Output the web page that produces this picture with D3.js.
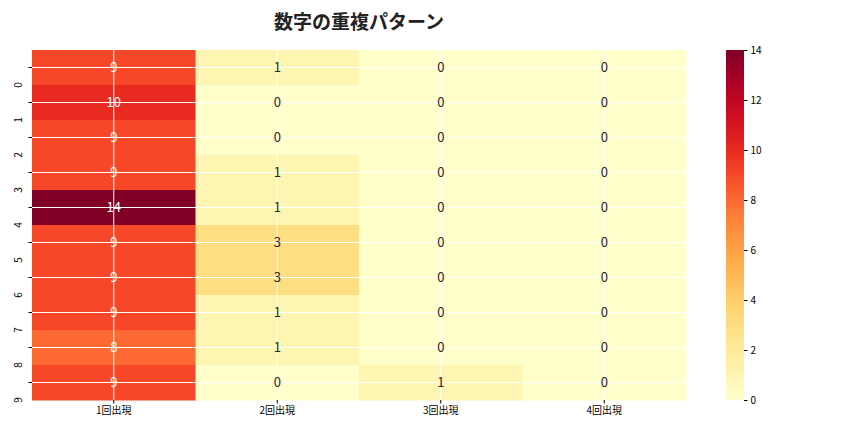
<!DOCTYPE html><html><head><meta charset="utf-8"><script src="https://cdn.jsdelivr.net/npm/d3@7"></script>
<style>body{margin:0;background:#fff}text{font-family:"Noto Sans CJK JP","DejaVu Sans",sans-serif}</style></head><body>
<svg id="c" width="864" height="432"></svg>
<script>
const rows=["0","1","2","3","4","5","6","7","8","9"];
const cols=["1回出現","2回出現","3回出現","4回出現"];
const values=[[9,1,0,0],[10,0,0,0],[9,0,0,0],[9,1,0,0],[14,1,0,0],[9,3,0,0],[9,3,0,0],[9,1,0,0],[8,1,0,0],[9,0,1,0]];
const cbTicks=[0,2,4,6,8,10,12,14];
const svg=d3.select("#c");
const x=d3.scaleBand().domain(cols).range([32,686]);
const y=d3.scaleBand().domain(rows).range([50,400]);
const color=d3.scaleSequential(d3.interpolateYlOrRd).domain([0,14]);
const cells=[];values.forEach((r,i)=>r.forEach((v,j)=>cells.push({r:rows[i],c:cols[j],v})));
svg.selectAll("rect.cell").data(cells).join("rect").attr("x",d=>x(d.c)).attr("y",d=>y(d.r)).attr("width",x.bandwidth()+0.5).attr("height",y.bandwidth()+0.5).attr("fill",d=>color(d.v));
const g=svg.append("g");
cols.forEach(c=>g.append("line").attr("x1",x(c)+x.bandwidth()/2).attr("x2",x(c)+x.bandwidth()/2).attr("y1",50).attr("y2",400).attr("stroke","#fff").attr("stroke-width",1));
rows.forEach(r=>g.append("line").attr("y1",y(r)+y.bandwidth()/2).attr("y2",y(r)+y.bandwidth()/2).attr("x1",32).attr("x2",686).attr("stroke","#fff").attr("stroke-width",1));
svg.selectAll("text.v").data(cells).join("text").attr("x",d=>x(d.c)+x.bandwidth()/2).attr("y",d=>y(d.r)+y.bandwidth()/2).attr("dy","0.35em").attr("text-anchor","middle").attr("font-size",13).attr("fill",d=>d.v>=7?"#fff":"#262626").text(d=>d.v);
const xa=svg.append("g").attr("transform","translate(0,400)").call(d3.axisBottom(x).tickSize(3.5));
xa.select(".domain").remove();xa.selectAll("text").attr("font-size",10).attr("fill","#000");
const ya=svg.append("g").attr("transform","translate(32,0)").call(d3.axisLeft(y).tickSize(3.5));
ya.select(".domain").remove();
ya.selectAll("text").attr("font-size",10).attr("fill","#000").attr("transform",function(d){return `rotate(-90,${-6.5},${y(d)+y.bandwidth()/2})`}).attr("x",-6.5).attr("y",y.bandwidth()/2).attr("dy","0em").attr("text-anchor","middle").attr("transform",d=>`rotate(-90,-10,${y.bandwidth()/2})`).attr("x",-10);
// colorbar
const cy=d3.scaleLinear().domain([0,14]).range([400,50]);
const defs=svg.append("defs");const lg=defs.append("linearGradient").attr("id","gr").attr("x1",0).attr("x2",0).attr("y1",1).attr("y2",0);
d3.range(0,1.01,0.05).forEach(t=>lg.append("stop").attr("offset",t).attr("stop-color",color(t*14)));
svg.append("rect").attr("x",726).attr("y",50).attr("width",18).attr("height",350).attr("fill","url(#gr)");
const ca=svg.append("g").attr("transform","translate(744,0)").call(d3.axisRight(cy).tickValues(cbTicks).tickSize(3.5));
ca.select(".domain").remove();ca.selectAll("text").attr("font-size",10).attr("fill","#000");
svg.append("text").attr("x",359).attr("y",29).attr("text-anchor","middle").attr("font-size",19).attr("font-weight","bold").attr("fill","#222").text("数字の重複パターン");
</script></body></html>
